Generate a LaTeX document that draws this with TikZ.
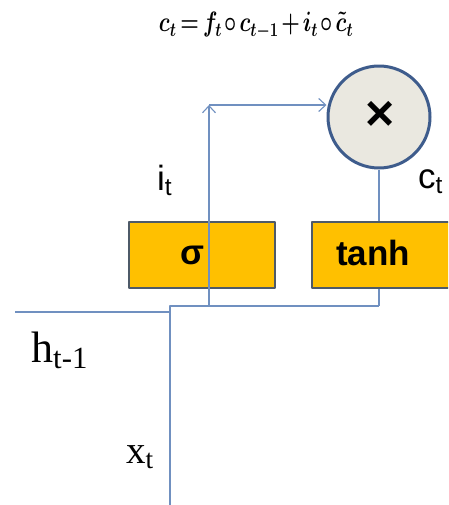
\RequirePackage{fix-cm}
\documentclass[tikz,border=0pt]{standalone}
\usepackage{fontspec}
\usepackage{graphicx}
\setmainfont{Liberation Serif}
\newfontfamily\arialf{Liberation Sans}
\usetikzlibrary{arrows.meta,calc}
\definecolor{wireblue}{RGB}{112,144,192}
\definecolor{ringblue}{RGB}{62,92,140}
\definecolor{ringfill}{RGB}{234,232,224}
\definecolor{gateyellow}{RGB}{255,192,0}
\definecolor{gateedge}{RGB}{78,90,104}
\newcommand{\celleq}{\scalebox{0.76}[1]{\boldmath\thickmuskip=3mu \medmuskip=2mu $c_t = f_t \circ c_{t-1} + i_t \circ \tilde{c}_t$}}
\tikzset{
  wire/.style={draw=wireblue, line width=1.1pt},
  gatebox/.style={draw=gateedge, fill=gateyellow, line width=1.6pt, inner sep=0pt},
  gatetext/.style={font=\arialf\bfseries\fontsize{35}{40}\selectfont, inner sep=0pt},
  sidetext/.style={font=\arialf\fontsize{35}{40}\selectfont, inner sep=0pt, anchor=base west},
  vartext/.style={inner sep=0pt, anchor=base west}
}
\begin{document}
\begin{tikzpicture}[x=1pt, y=-1pt, >={Straight Barb[length=7pt,width=13pt]}, line join=round]
  \clip (0,0) rectangle (448,505);

  % Cell state update
  \node[inner sep=0pt, anchor=base, font=\fontsize{28}{32}\selectfont] (eq) at (256,32) {\celleq};

  % Gates
  \node[gatebox, minimum width=146pt, minimum height=66pt] (sig) at (202,255) {};
  \node[gatebox, minimum width=160pt, minimum height=66pt] (tanh) at (392,255) {};
  \node[gatetext] (sigtxt) at (192,255) {σ};
  \node[gatetext] (tanhtxt) at (373,253) {tanh};

  % Product
  \node[circle, draw=ringblue, fill=ringfill, line width=3pt, minimum size=102pt] (mul) at (379,117) {};
  \node[font=\arialf\bfseries\fontsize{50}{54}\selectfont, inner sep=0pt] (times) at (380,116) {×};

  % Junctions
  \coordinate (j0) at (170,306);
  \coordinate (j1) at (209,306);
  \coordinate (j2) at (379,306);
  \coordinate (cor) at (209,105);
  \coordinate (hin) at (15,312);
  \coordinate (hj) at (170,312);
  \coordinate (xin) at (170,505);

  % Wires
  \draw[wire] (hin) -- (hj);
  \draw[wire] (xin) -- (j0) -- (j2);
  \draw[wire] (j2) -- (j2 |- tanh.south);
  \draw[wire] (mul.south) -- (mul.south |- tanh.north);
  \draw[wire, ->] (j1) -- (cor);
  \draw[wire, ->] (cor) -- (cor -| mul.west);

  % Labels
  \node[sidetext] (it) at (157,190) {i\textsubscript{t}};
  \node[sidetext] (ct) at (418,188) {c\textsubscript{t}};
  \node[vartext, font=\fontsize{44}{50}\selectfont] (hprev) at (31,362) {h\textsubscript{t-1}};
  \node[vartext, font=\fontsize{39}{44}\selectfont] (xt) at (126,463) {x\textsubscript{t}};
\end{tikzpicture}
\end{document}
